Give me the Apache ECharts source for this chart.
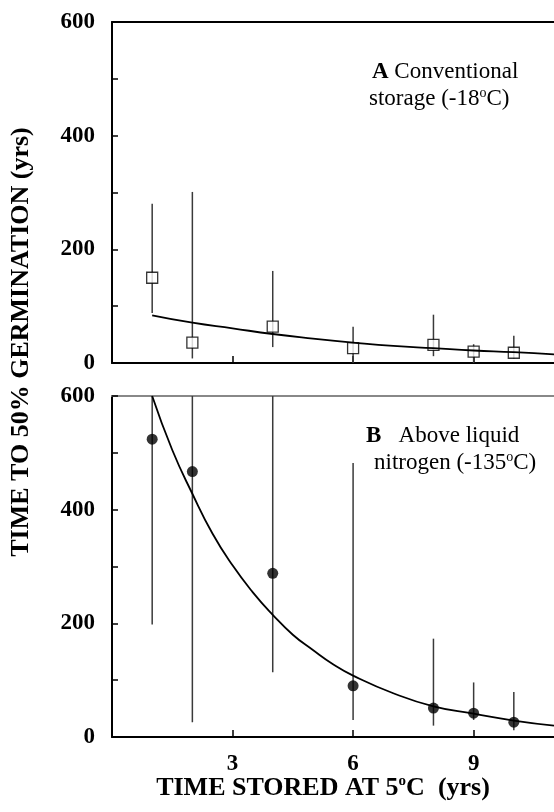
<!DOCTYPE html>
<html>
<head>
<meta charset="utf-8">
<script src="https://cdn.jsdelivr.net/npm/echarts@6/dist/echarts.min.js"></script>
<style>html,body{margin:0;padding:0;background:#fff}#c{width:554px;height:812px}</style>
</head>
<body>
<div id="c"></div>
<script>
// ---- data ----
const storedYears = [1, 2, 4, 6, 8, 9, 10];
// Panel A: conventional storage (-18 C)
const aMean = [150, 36, 64, 26, 32, 20, 18];
const aLow  = [88, 8, 28, 0, 12, 0, 8];
const aHigh = [280, 301, 162, 64, 85, 33, 48];
const aCurveX = [1, 2, 3, 4, 5, 6, 7, 8, 9, 10, 11];
const aCurveY = [84, 71, 61, 51, 43, 36, 30, 26, 22, 19, 15];
// Panel B: above liquid nitrogen (-135 C)
const bMean = [524, 467, 288, 90, 51, 42, 26];
const bLow  = [198, 26, 114, 30, 20, 30, 12];
const bHigh = [600, 600, 600, 482, 173, 96, 79];
const bCurveX = [1, 1.5, 2, 2.5, 3, 3.5, 4, 4.5, 5, 5.5, 6, 7, 8, 9, 10, 11];
const bCurveY = [600, 505, 428, 358, 302, 255, 215, 180, 153, 128, 108, 77, 54, 41, 29, 20];
// axes
const xTickLabels = [3, 6, 9];
const yTickLabels = [0, 200, 400, 600];

const FONT = '"Liberation Serif", "Times New Roman", serif';

function pairs(xs, ys) { return xs.map((x, i) => [x, ys[i]]); }
function errData(xs, lo, hi) { return xs.map((x, i) => [x, lo[i], hi[i]]); }

function errRender(params, api) {
  const x = api.value(0);
  const p1 = api.coord([x, api.value(1)]);
  const p2 = api.coord([x, api.value(2)]);
  return { type: 'line', shape: { x1: p1[0], y1: p1[1], x2: p2[0], y2: p2[1] },
           style: { stroke: '#3a3a3a', lineWidth: 1.5 } };
}

function xAxisDef(gridIndex, showLabels) {
  return {
    type: 'value', gridIndex, min: 0, max: 11, interval: 3,
    axisLine: { show: true, onZero: false, lineStyle: { color: '#000', width: 2 } },
    axisTick: { show: true, inside: true, length: 7, customValues: xTickLabels,
                lineStyle: { color: '#000', width: 1.5 } },
    splitLine: { show: false },
    axisLabel: {
      show: showLabels, margin: 16, color: '#000', fontFamily: FONT, fontWeight: 'bold', fontSize: 23,
      customValues: xTickLabels,
      formatter: v => xTickLabels.indexOf(v) >= 0 ? String(v) : ''
    }
  };
}
function topBorderAxis(gridIndex, color) {
  return {
    type: 'value', gridIndex, position: 'top', min: 0, max: 11,
    axisLine: { show: true, onZero: false, lineStyle: { color, width: 2 } },
    axisTick: { show: false }, axisLabel: { show: false }, splitLine: { show: false }
  };
}
function yAxisDef(gridIndex) {
  return {
    type: 'value', gridIndex, min: 0, max: 600, interval: 100,
    axisLine: { show: true, onZero: false, lineStyle: { color: '#000', width: 2 } },
    axisTick: { show: true, inside: true, length: 6, lineStyle: { color: '#000', width: 1.5 } },
    splitLine: { show: false },
    axisLabel: {
      margin: 17, color: '#000', fontFamily: FONT, fontWeight: 'bold', fontSize: 23,
      formatter: v => yTickLabels.indexOf(v) >= 0 ? String(v) : ''
    }
  };
}

const chart = echarts.init(document.getElementById('c'), null, { renderer: 'canvas' });
chart.setOption({
  backgroundColor: '#fff',
  animation: false,
  grid: [
    { left: 112, right: 0, top: 22, height: 341 },
    { left: 112, right: 0, top: 396, height: 341 }
  ],
  xAxis: [xAxisDef(0, false), xAxisDef(1, true), topBorderAxis(0, '#000'), topBorderAxis(1, '#888')],
  yAxis: [yAxisDef(0), yAxisDef(1)],
  series: [
    { type: 'custom', xAxisIndex: 0, yAxisIndex: 0, renderItem: errRender, clip: true, z: 1,
      encode: { x: 0, y: [1, 2] }, data: errData(storedYears, aLow, aHigh) },
    { type: 'scatter', xAxisIndex: 0, yAxisIndex: 0, symbol: 'rect', symbolSize: 11, z: 2,
      itemStyle: { color: '#fff', borderColor: '#000', borderWidth: 1.3 },
      data: pairs(storedYears, aMean) },
    { type: 'line', xAxisIndex: 0, yAxisIndex: 0, smooth: true, showSymbol: false, z: 3, clip: true,
      lineStyle: { color: '#000', width: 1.8 }, data: pairs(aCurveX, aCurveY) },

    { type: 'custom', xAxisIndex: 1, yAxisIndex: 1, renderItem: errRender, clip: true, z: 1,
      encode: { x: 0, y: [1, 2] }, data: errData(storedYears, bLow, bHigh) },
    { type: 'line', xAxisIndex: 1, yAxisIndex: 1, smooth: true, showSymbol: false, z: 2, clip: true,
      lineStyle: { color: '#000', width: 1.8 }, data: pairs(bCurveX, bCurveY) },
    { type: 'scatter', xAxisIndex: 1, yAxisIndex: 1, symbol: 'circle', symbolSize: 11, z: 3,
      itemStyle: { color: '#000' }, data: pairs(storedYears, bMean) }
  ],
  graphic: [
    { type: 'text', x: 21.7, y: 342, rotation: Math.PI / 2,
      style: { text: 'TIME TO 50% GERMINATION (yrs)', fontFamily: FONT, fontWeight: 'bold', fontSize: 26,
               fill: '#000', align: 'center', verticalAlign: 'middle' } },
    { type: 'text', x: 323, y: 788,
      style: { text: '{t|TIME STORED AT 5}{s|o}{t|C  (yrs)}', align: 'center', verticalAlign: 'middle',
               rich: { t: { fontFamily: FONT, fontWeight: 'bold', fontSize: 26, fill: '#000', lineHeight: 28 },
                       s: { fontFamily: FONT, fontWeight: 'bold', fontSize: 15, fill: '#000', verticalAlign: 'top', lineHeight: 28 } } } },
    { type: 'text', x: 372, y: 72,
      style: { text: '{b|A}{r| Conventional}', align: 'left', verticalAlign: 'middle',
               rich: { b: { fontFamily: FONT, fontWeight: 'bold', fontSize: 23, fill: '#000' },
                       r: { fontFamily: FONT, fontSize: 23, fill: '#000' } } } },
    { type: 'text', x: 369, y: 99,
      style: { text: '{r|storage (-18}{s|o}{r|C)}', align: 'left', verticalAlign: 'middle',
               rich: { r: { fontFamily: FONT, fontSize: 23, fill: '#000', lineHeight: 26 },
                       s: { fontFamily: FONT, fontSize: 14, fill: '#000', verticalAlign: 'top', lineHeight: 26 } } } },
    { type: 'text', x: 366, y: 436,
      style: { text: '{b|B}{r|   Above liquid}', align: 'left', verticalAlign: 'middle',
               rich: { b: { fontFamily: FONT, fontWeight: 'bold', fontSize: 23, fill: '#000' },
                       r: { fontFamily: FONT, fontSize: 23, fill: '#000' } } } },
    { type: 'text', x: 374, y: 463,
      style: { text: '{r|nitrogen (-135}{s|o}{r|C)}', align: 'left', verticalAlign: 'middle',
               rich: { r: { fontFamily: FONT, fontSize: 23, fill: '#000', lineHeight: 26 },
                       s: { fontFamily: FONT, fontSize: 14, fill: '#000', verticalAlign: 'top', lineHeight: 26 } } } }
  ]
});
</script>
</body>
</html>
